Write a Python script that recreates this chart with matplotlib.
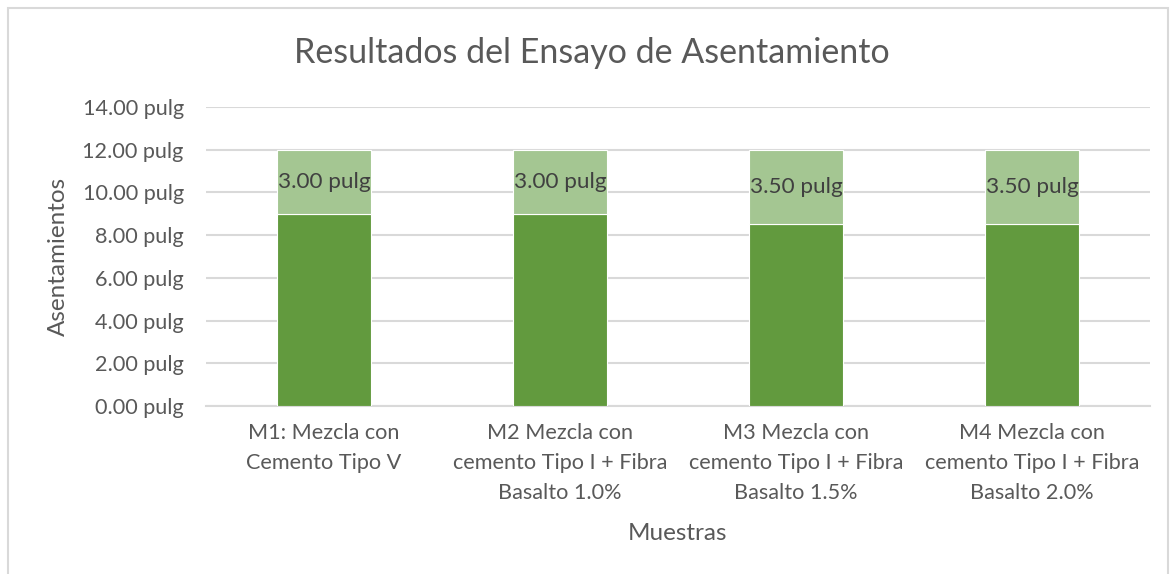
import matplotlib.pyplot as plt
from matplotlib.patches import Rectangle

categorias = ['M1: Mezcla con\nCemento Tipo V',
              'M2 Mezcla con\ncemento Tipo I + Fibra\nBasalto 1.0%',
              'M3 Mezcla con\ncemento Tipo I + Fibra\nBasalto 1.5%',
              'M4 Mezcla con\ncemento Tipo I + Fibra\nBasalto 2.0%']
base = [9.0, 9.0, 8.5, 8.5]
asentamiento = [3.0, 3.0, 3.5, 3.5]
yticks = [0, 2, 4, 6, 8, 10, 12, 14]

plt.rcParams['font.family'] = ['Lato', 'DejaVu Sans']

W, H = 1176, 574
fig = plt.figure(figsize=(W / 100, H / 100), dpi=100)
ax = fig.add_axes([206 / W, 1 - 406 / H, 944 / W, 299 / H])

x = range(len(categorias))
ax.bar(x, base, width=0.4, color='#629a3e', edgecolor='white', linewidth=0.8, zorder=3)
ax.bar(x, asentamiento, bottom=base, width=0.4, color='#a4c692',
       edgecolor='white', linewidth=0.8, zorder=3)
for xi, b, a in zip(x, base, asentamiento):
    ax.text(xi, b + a / 2, f'{a:.2f} pulg', ha='center', va='center',
            fontsize=16.2, color='#404040', zorder=4)

ax.set_xlim(-0.5, len(categorias) - 0.5)
ax.set_ylim(0, 14)
ax.set_yticks(yticks)
ax.set_yticklabels([f'{v:.2f} pulg' for v in yticks])
ax.set_xticks(list(x))
ax.set_xticklabels(categorias, linespacing=1.65)
ax.tick_params(axis='both', length=0, labelsize=15.6, labelcolor='#595959')
ax.tick_params(axis='x', pad=12)
ax.tick_params(axis='y', pad=16)
ax.grid(axis='y', color='#d9d9d9', linewidth=1.5, zorder=0)
for s in ['top', 'right', 'left']:
    ax.spines[s].set_visible(False)
ax.spines['bottom'].set_color('#d9d9d9')
ax.spines['bottom'].set_linewidth(1.5)

ax.set_ylabel('Asentamientos', fontsize=17.5, color='#595959', labelpad=10)
ax.set_xlabel('Muestras', fontsize=17.5, color='#595959', labelpad=14)
fig.text(592 / W, 1 - 53 / H, 'Resultados del Ensayo de Asentamiento',
         ha='center', va='center', fontsize=24.5, color='#595959')

fig.patches.append(Rectangle((8 / W, -0.05), 1160 / W, 1.05 - 8 / H,
                             transform=fig.transFigure, fill=False,
                             edgecolor='#d9d9d9', linewidth=1.5))

fig.savefig('out.png', dpi=100, facecolor='white')
